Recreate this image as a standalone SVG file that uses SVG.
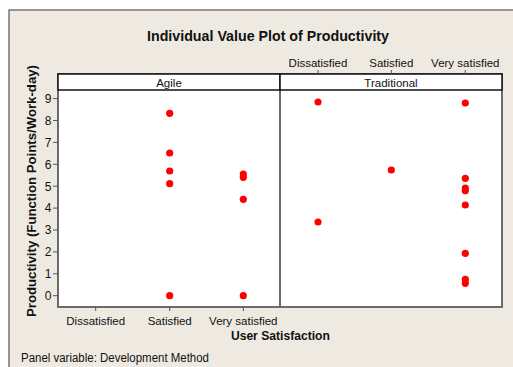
<svg xmlns="http://www.w3.org/2000/svg" width="513" height="367" viewBox="0 0 513 367">
<defs>
<style>
.t{font-family:"Liberation Sans",Arial,sans-serif;fill:#111}
.lab{font-size:11.5px;text-anchor:middle}
.yt{font-size:12px;text-anchor:end}
.b{font-weight:bold}
.tick{stroke:#555;stroke-width:1}
.pt{fill:#ff0000}
</style>
</defs>
<rect x="0" y="0" width="513" height="367" fill="#ffffff"/>
<rect x="9" y="10" width="510" height="364" fill="#eeeae1" stroke="#555" stroke-width="1.2"/>
<text class="t b" x="268" y="41" font-size="14" text-anchor="middle" textLength="242" lengthAdjust="spacingAndGlyphs">Individual Value Plot of Productivity</text>

<g id="panels">
<rect x="58" y="74" width="444" height="233" fill="#fff" stroke="#6b6b6b" stroke-width="2"/>
<line x1="280" y1="90" x2="280" y2="307" stroke="#6b6b6b" stroke-width="2"/>
</g>
<g id="strip-agile">
<rect x="58" y="74" width="222" height="16" fill="#fff" stroke="#111" stroke-width="1.5"/>
<text class="t lab" x="169" y="86.5">Agile</text>
</g>
<g id="strip-traditional">
<rect x="280" y="74" width="222" height="16" fill="#fff" stroke="#111" stroke-width="1.5"/>
<text class="t lab" x="391" y="86.5">Traditional</text>
</g>

<g id="y-axis">
<g class="tick">
<line x1="53" y1="295.7" x2="58" y2="295.7"/>
<line x1="53" y1="273.8" x2="58" y2="273.8"/>
<line x1="53" y1="251.9" x2="58" y2="251.9"/>
<line x1="53" y1="230" x2="58" y2="230"/>
<line x1="53" y1="208.1" x2="58" y2="208.1"/>
<line x1="53" y1="186.2" x2="58" y2="186.2"/>
<line x1="53" y1="164.3" x2="58" y2="164.3"/>
<line x1="53" y1="142.4" x2="58" y2="142.4"/>
<line x1="53" y1="120.5" x2="58" y2="120.5"/>
<line x1="53" y1="98.6" x2="58" y2="98.6"/>
</g>
<text class="t yt" x="51.5" y="300">0</text>
<text class="t yt" x="51.5" y="278.1">1</text>
<text class="t yt" x="51.5" y="256.2">2</text>
<text class="t yt" x="51.5" y="234.3">3</text>
<text class="t yt" x="51.5" y="212.4">4</text>
<text class="t yt" x="51.5" y="190.5">5</text>
<text class="t yt" x="51.5" y="168.6">6</text>
<text class="t yt" x="51.5" y="146.7">7</text>
<text class="t yt" x="51.5" y="124.8">8</text>
<text class="t yt" x="51.5" y="102.9">9</text>
<text class="t b" transform="translate(35.5,191) rotate(-90)" font-size="12.5" text-anchor="middle" textLength="252" lengthAdjust="spacingAndGlyphs">Productivity (Function Points/Work-day)</text>
</g>

<g id="x-axis">
<g class="tick">
<line x1="95.7" y1="307" x2="95.7" y2="311"/>
<line x1="169.7" y1="307" x2="169.7" y2="311"/>
<line x1="243.3" y1="307" x2="243.3" y2="311"/>
<line x1="318" y1="70" x2="318" y2="74"/>
<line x1="391.3" y1="70" x2="391.3" y2="74"/>
<line x1="465.3" y1="70" x2="465.3" y2="74"/>
</g>
<text class="t lab" x="95.7" y="324.5">Dissatisfied</text>
<text class="t lab" x="169.7" y="324.5">Satisfied</text>
<text class="t lab" x="243.3" y="324.5">Very satisfied</text>
<text class="t lab" x="318" y="67">Dissatisfied</text>
<text class="t lab" x="391.3" y="67">Satisfied</text>
<text class="t lab" x="465.3" y="67">Very satisfied</text>
<text class="t b" x="280.4" y="340" font-size="12.5" text-anchor="middle" textLength="99" lengthAdjust="spacingAndGlyphs">User Satisfaction</text>
</g>

<g id="points">
<circle class="pt" cx="169.7" cy="113.3" r="3.6"/>
<circle class="pt" cx="169.7" cy="153" r="3.6"/>
<circle class="pt" cx="169.7" cy="171" r="3.6"/>
<circle class="pt" cx="169.7" cy="183.7" r="3.6"/>
<circle class="pt" cx="169.7" cy="295.7" r="3.6"/>
<circle class="pt" cx="243.3" cy="174" r="3.6"/>
<circle class="pt" cx="243.3" cy="177.3" r="3.6"/>
<circle class="pt" cx="243.3" cy="199.3" r="3.6"/>
<circle class="pt" cx="243.3" cy="295.7" r="3.6"/>
<circle class="pt" cx="318" cy="102" r="3.6"/>
<circle class="pt" cx="318" cy="222" r="3.6"/>
<circle class="pt" cx="391.3" cy="170" r="3.6"/>
<circle class="pt" cx="465.3" cy="103" r="3.6"/>
<circle class="pt" cx="465.3" cy="178.3" r="3.6"/>
<circle class="pt" cx="465.3" cy="188" r="3.6"/>
<circle class="pt" cx="465.3" cy="190.7" r="3.6"/>
<circle class="pt" cx="465.3" cy="205" r="3.6"/>
<circle class="pt" cx="465.3" cy="253.3" r="3.6"/>
<circle class="pt" cx="465.3" cy="279.3" r="3.6"/>
<circle class="pt" cx="465.3" cy="283.3" r="3.6"/>
</g>

<text class="t" x="21" y="361.5" font-size="12" textLength="188" lengthAdjust="spacingAndGlyphs">Panel variable: Development Method</text>
</svg>
